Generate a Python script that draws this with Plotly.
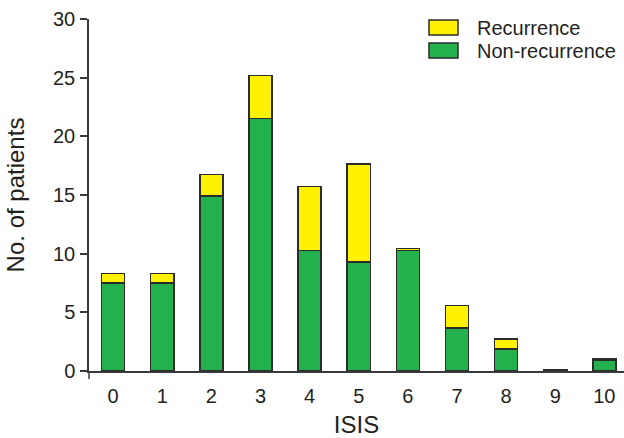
import plotly.graph_objects as go

categories = ["0", "1", "2", "3", "4", "5", "6", "7", "8", "9", "10"]
non_recurrence = [7.5, 7.5, 14.9, 21.5, 10.25, 9.3, 10.25, 3.67, 1.88, 0.1, 0.91]
recurrence = [0.82, 0.82, 1.84, 3.67, 5.46, 8.33, 0.17, 1.91, 0.83, 0.0, 0.11]
y_ticks = [0, 5, 10, 15, 20, 25, 30]

FONT = "Liberation Sans, Arial, Helvetica, sans-serif"
TXT = "#231f20"
EDGE = "#2b2b2b"
YELLOW = "#fff200"
GREEN = "#23b14d"

x = list(range(len(categories)))

fig = go.Figure()
fig.add_trace(go.Bar(x=x, y=non_recurrence, name="Non-recurrence",
                     marker=dict(color=GREEN, line=dict(color=EDGE, width=1.5)),
                     width=0.47, showlegend=False))
fig.add_trace(go.Bar(x=x, y=recurrence, name="Recurrence",
                     marker=dict(color=YELLOW, line=dict(color=EDGE, width=1.5)),
                     width=0.47, showlegend=False))

fig.update_layout(
    barmode="stack",
    width=624, height=438,
    margin=dict(l=89, r=0, t=19, b=67),
    paper_bgcolor="white", plot_bgcolor="white",
    font=dict(family=FONT, size=20, color=TXT),
    xaxis=dict(range=[-0.49, 10.4], tickmode="array", tickvals=x, ticktext=categories,
               showline=True, linecolor="#3a3a3a", linewidth=1.5, ticks="",
               showgrid=False, zeroline=False,
               title=dict(text="ISIS", standoff=14), ticklabelstandoff=6),
    yaxis=dict(range=[0, 30], tickmode="array", tickvals=y_ticks,
               showline=True, linecolor="#3a3a3a", linewidth=1.5,
               ticks="outside", ticklen=7, tickwidth=1.5, tickcolor="#3a3a3a",
               showgrid=False, zeroline=False, ticklabelstandoff=1,
               title=dict(text="No. of patients", standoff=22)),
)

# small downward extension of the y-axis below zero
fig.add_shape(type="line", xref="paper", yref="paper", x0=0, x1=0, y0=0, y1=-0.023,
              line=dict(color="#3a3a3a", width=1.5))

# custom legend
legend_items = [("Recurrence", YELLOW), ("Non-recurrence", GREEN)]
plot_h = 438 - 19 - 67
plot_w = 624 - 89
def px_x(p):
    return (p - 89) / plot_w
def px_y(p):
    return (438 - 67 - p) / plot_h
for i, (name, col) in enumerate(legend_items):
    top = 20 + i * 23
    fig.add_shape(type="rect", xref="paper", yref="paper",
                  x0=px_x(429), x1=px_x(458), y0=px_y(top + 15), y1=px_y(top),
                  fillcolor=col, line=dict(color=EDGE, width=1.5))
    fig.add_annotation(xref="paper", yref="paper", x=px_x(475), y=px_y(top + 7.5),
                       text=name, showarrow=False, xanchor="left", yanchor="middle",
                       font=dict(family=FONT, size=20, color=TXT))

fig.write_html("out.html", config={"displayModeBar": False},
               post_script="document.body.style.margin='0';document.body.style.overflow='hidden';")
